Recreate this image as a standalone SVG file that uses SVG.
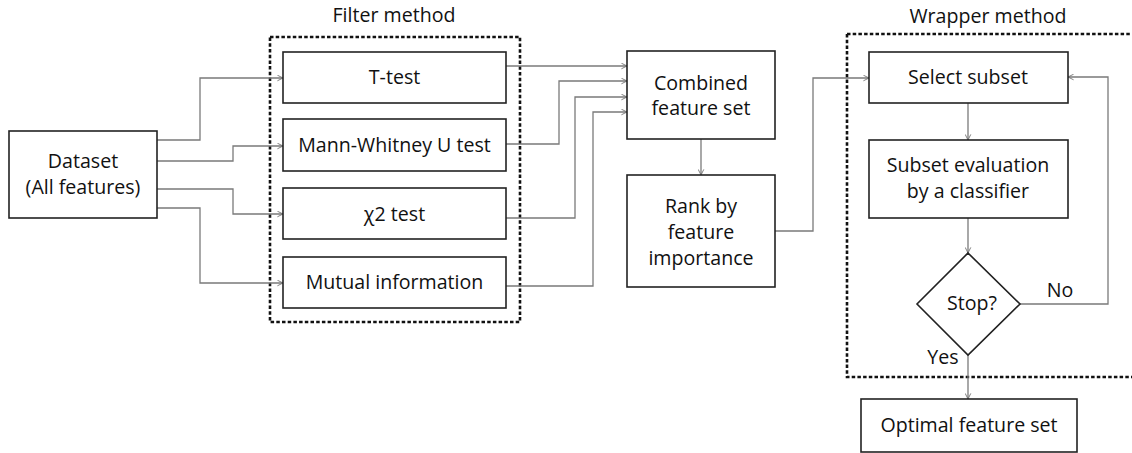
<svg xmlns="http://www.w3.org/2000/svg" width="1132" height="453" viewBox="0 0 1132 453">
  <style>
    .box { fill: #fff; stroke: #222; stroke-width: 1.6; }
    .group { fill: none; stroke: #111; stroke-width: 2.6; stroke-dasharray: 3.5 2.2; }
    .link { fill: none; stroke: #7a7a7a; stroke-width: 1.3; marker-end: url(#chev); }
    text { font-family: "Open Sans", "Noto Sans", sans-serif; font-size: 19.6px; fill: #111; text-anchor: middle; }
  </style>
  <defs>
    <marker id="chev" viewBox="0 0 10 10" refX="9" refY="5" markerWidth="7" markerHeight="7" markerUnits="userSpaceOnUse" orient="auto">
      <path d="M1,1 L9,5 L1,9" fill="none" stroke="#6a6a6a" stroke-width="1.2"/>
    </marker>
  </defs>

  <!-- dashed group frames -->
  <g id="filter-group">
    <rect class="group" x="270" y="37" width="250" height="285"/>
    <text x="394" y="22">Filter method</text>
  </g>
  <g id="wrapper-group">
    <rect class="group" x="847" y="34" width="300" height="343"/>
    <text x="988" y="23">Wrapper method</text>
  </g>

  <!-- connectors -->
  <g id="connectors">
    <path class="link" d="M157,140 H200 V78 H283"/>
    <path class="link" d="M157,161 H233 V146 H283"/>
    <path class="link" d="M157,189 H233 V214 H283"/>
    <path class="link" d="M157,208 H200 V283 H283"/>
    <path class="link" d="M506,66 H627"/>
    <path class="link" d="M506,144 H559 V81 H627"/>
    <path class="link" d="M506,218 H575 V97 H627"/>
    <path class="link" d="M506,286 H593 V112 H627"/>
    <path class="link" d="M701,139 V175"/>
    <path class="link" d="M775,231 H813 V78 H869"/>
    <path class="link" d="M968,103 V140"/>
    <path class="link" d="M968,218 V253"/>
    <path class="link" d="M1020,304 H1108 V77 H1068"/>
    <path class="link" d="M968,355 V399"/>
    <text x="1060" y="297">No</text>
    <text x="943" y="364">Yes</text>
  </g>

  <!-- nodes -->
  <g id="dataset">
    <rect class="box" x="9" y="131" width="148" height="87"/>
    <text x="83" y="168">Dataset</text>
    <text x="83" y="194">(All features)</text>
  </g>
  <g id="t-test">
    <rect class="box" x="283" y="52" width="223" height="51"/>
    <text x="394.5" y="84">T-test</text>
  </g>
  <g id="mann-whitney">
    <rect class="box" x="283" y="119" width="223" height="52"/>
    <text x="394.5" y="152">Mann-Whitney U test</text>
  </g>
  <g id="chi2-test">
    <rect class="box" x="283" y="188" width="223" height="51"/>
    <text x="394.5" y="221">χ2 test</text>
  </g>
  <g id="mutual-information">
    <rect class="box" x="283" y="257" width="223" height="51"/>
    <text x="394.5" y="289">Mutual information</text>
  </g>
  <g id="combined">
    <rect class="box" x="627" y="51" width="148" height="88"/>
    <text x="701" y="90">Combined</text>
    <text x="701" y="115">feature set</text>
  </g>
  <g id="rank">
    <rect class="box" x="627" y="175" width="148" height="112"/>
    <text x="701" y="213">Rank by</text>
    <text x="701" y="239">feature</text>
    <text x="701" y="265">importance</text>
  </g>
  <g id="select-subset">
    <rect class="box" x="869" y="52" width="199" height="51"/>
    <text x="968" y="84">Select subset</text>
  </g>
  <g id="subset-evaluation">
    <rect class="box" x="869" y="140" width="199" height="78"/>
    <text x="968" y="172">Subset evaluation</text>
    <text x="968" y="198">by a classifier</text>
  </g>
  <g id="stop">
    <polygon class="box" points="968,253 1020,304 968,355 917,304"/>
    <text x="972" y="310">Stop?</text>
  </g>
  <g id="optimal">
    <rect class="box" x="861" y="399" width="216" height="53"/>
    <text x="969" y="432">Optimal feature set</text>
  </g>
</svg>
